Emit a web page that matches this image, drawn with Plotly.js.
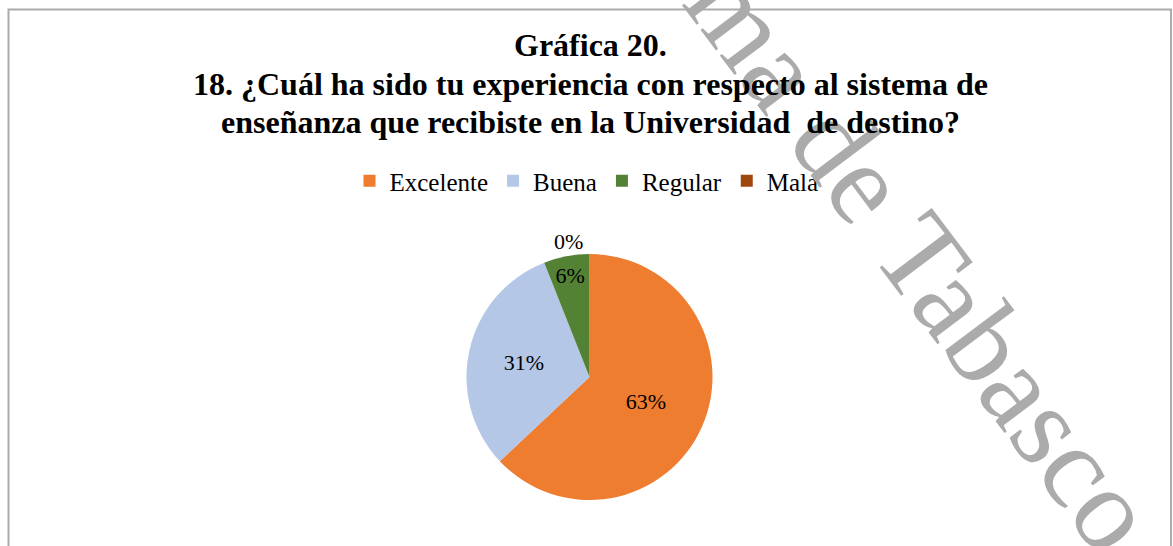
<!DOCTYPE html>
<html>
<head>
<meta charset="utf-8">
<script src="https://cdn.plot.ly/plotly-3.0.1.min.js"></script>
<style>html,body{margin:0;padding:0;background:#fff;}#chart{width:1173px;height:546px;}</style>
</head>
<body>
<div id="chart"></div>
<script>
const categories = ['Excelente', 'Buena', 'Regular', 'Mala'];
const values = [63, 31, 6, 0];
const colors = ['#ef7d2f', '#b4c7e7', '#548235', '#9e480e'];
const textPositions = ['inside', 'inside', 'inside', 'outside'];
const titleLines = [
  'Gráfica 20.',
  '18. ¿Cuál ha sido tu experiencia con respecto al sistema de',
  'enseñanza que recibiste en la Universidad  de destino?'
];
const watermark = 'ma de Tabasco';

const W = 1173, H = 546;
const cx = 589.5, cy = 377, R = 123;
const SERIF = 'Liberation Serif';
const titleCenters = [45, 84, 122];

const trace = {
  type: 'pie',
  labels: categories,
  values: values,
  sort: false,
  direction: 'clockwise',
  rotation: 0,
  marker: {colors: colors, line: {width: 0}},
  textposition: textPositions,
  texttemplate: '%{percent:.0%}',
  insidetextorientation: 'horizontal',
  textfont: {family: SERIF, size: 22, color: '#000'},
  outsidetextfont: {family: SERIF, size: 22, color: '#000'},
  hoverinfo: 'none',
  domain: {
    x: [(cx - R) / W, (cx + R) / W],
    y: [(H - cy - R) / H, (H - cy + R) / H]
  }
};

const annotations = [{
  text: watermark,
  xref: 'paper', yref: 'paper',
  x: 922 / W, y: 1 - 257 / H,
  xanchor: 'center', yanchor: 'middle',
  textangle: 53,
  showarrow: false,
  font: {family: SERIF, size: 118, color: '#ababab'}
}].concat(titleLines.map((line, i) => ({
  text: line,
  xref: 'paper', yref: 'paper',
  x: 590 / W, y: 1 - titleCenters[i] / H,
  xanchor: 'center', yanchor: 'middle',
  showarrow: false,
  font: {family: SERIF, size: 32, color: '#000', weight: 700}
})));

const layout = {
  width: W, height: H,
  margin: {l: 0, r: 0, t: 0, b: 0},
  paper_bgcolor: '#fff',
  font: {family: SERIF, color: '#000'},
  showlegend: true,
  legend: {
    orientation: 'h',
    x: 0.5, xanchor: 'center',
    y: 1 - 181 / H, yanchor: 'middle',
    font: {family: SERIF, size: 25, color: '#000'},
    traceorder: 'normal',
    itemclick: false
  },
  shapes: [{
    type: 'rect', xref: 'paper', yref: 'paper',
    x0: 8.5 / W, x1: 1171 / W, y0: -0.2, y1: 1 - 9.5 / H,
    line: {color: '#ababab', width: 2}, fillcolor: 'rgba(0,0,0,0)'
  }],
  annotations: annotations
};

Plotly.newPlot('chart', [trace], layout, {staticPlot: true, displayModeBar: false});
</script>
</body>
</html>
